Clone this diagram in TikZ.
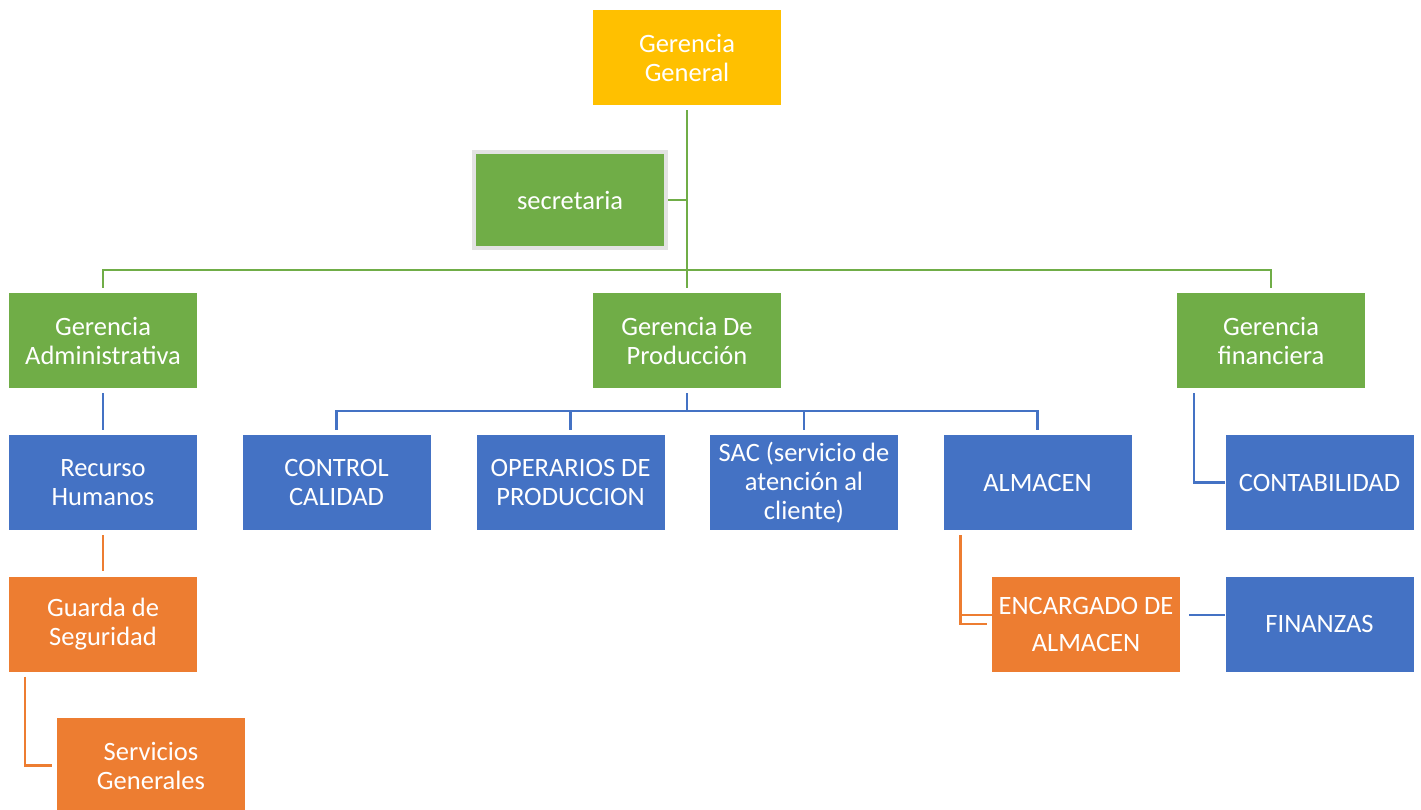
\documentclass[tikz,border=0pt]{standalone}
\usepackage{fontspec}
\setmainfont{Carlito}
\usetikzlibrary{calc}
\definecolor{cgold}{HTML}{FFC000}
\definecolor{cgreen}{HTML}{70AD47}
\definecolor{cblue}{HTML}{4472C4}
\definecolor{corange}{HTML}{ED7D31}
\definecolor{cgray}{HTML}{E3E3E3}
\tikzset{
  box/.style={rectangle, minimum width=188pt, minimum height=95pt, inner sep=1pt,
    text=white, align=center, font=\fontsize{26.5}{29}\selectfont},
  gline/.style={draw=cgreen, line width=2.9pt},
  bline/.style={draw=cblue, line width=2.9pt},
  oline/.style={draw=corange, line width=2.9pt},
}
\begin{document}
\begin{tikzpicture}[x=1pt,y=-1pt]
\useasboundingbox (0,0) rectangle (1421,810);
% level 0
\node[box, fill=cgold] (gg) at (687,57.5) {Gerencia\\General};
\node[box, fill=cgreen, draw=cgray, line width=4pt, minimum width=192pt, minimum height=96pt] (sec) at (570,200) {secretaria};
% level 1
\node[box, fill=cgreen] (ga) at (103,340.5) {Gerencia\\Administrativa};
\node[box, fill=cgreen] (gp) at (687,340.5) {Gerencia De\\Producción};
\node[box, fill=cgreen] (gf) at (1271,340.5) {Gerencia\\financiera};
% level 2
\node[box, fill=cblue] (rh) at (103,482.5) {Recurso\\Humanos};
\node[box, fill=cblue] (cc) at (336.5,482.5) {CONTROL\\CALIDAD};
\node[box, fill=cblue] (op) at (570.5,482.5) {OPERARIOS DE\\PRODUCCION};
\node[box, fill=cblue] (sac) at (804,482.5) {SAC (servicio de\\atención al\\cliente)};
\node[box, fill=cblue] (alm) at (1037.5,482.5) {ALMACEN};
\node[box, fill=cblue] (cont) at (1319.5,482.5) {CONTABILIDAD};
% level 3
\node[box, fill=corange] (gua) at (103,624) {Guarda de\\Seguridad};
\node[box, fill=corange] (enc) at (1086,624) {ENCARGADO DE\\[8pt]ALMACEN};
\node[box, fill=cblue] (fin) at (1319.5,624) {FINANZAS};
\node[box, fill=corange] (sg) at (151,765.5) {Servicios\\Generales};
% junctions
\coordinate (gj) at (687,270);
\coordinate (bj) at (687,411);
\coordinate (fc) at ([xshift=-77pt]gf.south);
\coordinate (gc) at ([xshift=-78pt]gua.south);
\coordinate (ac) at ([xshift=-77pt]alm.south);
% green connectors
\draw[gline, shorten <=5pt] (gg.south) -- (gj);
\draw[gline] (sec.east) -- (sec.east -| gj);
\draw[gline, shorten >=5pt] (gj) -| (ga.north);
\draw[gline, shorten >=5pt] (gj) -| (gf.north);
\draw[gline, shorten >=5pt] (gj) -- (gp.north);
% blue connectors
\draw[bline, shorten <=5pt] (gp.south) -- (bj);
\draw[bline, shorten >=5pt] (bj) -| (cc.north);
\draw[bline, shorten >=5pt] (bj) -| (op.north);
\draw[bline, shorten >=5pt] (bj) -| (sac.north);
\draw[bline, shorten >=5pt] (bj) -| (alm.north);
\draw[bline, shorten <=5pt, shorten >=5pt] (ga.south) -- (rh.north);
\draw[bline, shorten <=5pt] (fc) |- (cont.west);
\draw[bline, shorten <=9pt] ([yshift=9pt]enc.east) -- ([yshift=9pt]fin.west);
% orange connectors
\draw[oline, shorten <=5pt, shorten >=5pt] (rh.south) -- (gua.north);
\draw[oline, shorten <=5pt, shorten >=5pt] (gc) |- (sg.west);
\draw[oline, shorten <=5pt, shorten >=5pt] (ac) |- (enc.west);
\draw[oline] ([yshift=9pt]enc.west) -- ([yshift=9pt]enc.west -| ac);
\end{tikzpicture}
\end{document}
